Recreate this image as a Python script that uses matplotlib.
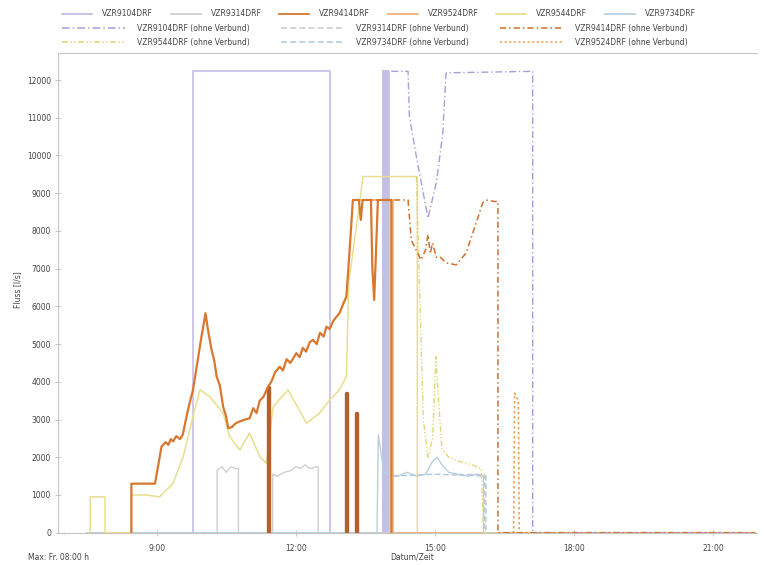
import matplotlib
matplotlib.use("Agg")
import matplotlib.pyplot as plt
from matplotlib.lines import Line2D
from matplotlib.ticker import FixedLocator, MultipleLocator, FuncFormatter
import numpy as np

# ---------------------------------------------------------------- data (time in hours, flow in l/s)
labels_main = ["VZR9104DRF", "VZR9314DRF", "VZR9414DRF",
               "VZR9524DRF", "VZR9544DRF", "VZR9734DRF"]
labels_ov = ["VZR9104DRF (ohne Verbund)", "VZR9314DRF (ohne Verbund)",
             "VZR9414DRF (ohne Verbund)", "VZR9544DRF (ohne Verbund)",
             "VZR9734DRF (ohne Verbund)", "VZR9524DRF (ohne Verbund)"]

s1_t = [7.50, 9.78, 9.78, 12.74, 12.74, 13.87,
        13.87, 13.89, 13.89, 13.91,
        13.91, 13.93, 13.93, 13.95,
        13.95, 13.97, 13.97, 13.99,
        13.99, 14.01, 14.01, 14.03,
        14.03, 21.90]
s1_v = [0, 0, 12230, 12230, 0, 0,
        12230, 12230, 0, 0,
        12230, 12230, 0, 0,
        12230, 12230, 0, 0,
        12230, 12230, 0, 0,
        0, 0]

s2_t = [7.50, 10.30, 10.30, 10.40, 10.50, 10.60, 10.70, 10.76, 10.76, 11.50, 11.50, 11.60,
        11.75, 11.90, 12.00, 12.10, 12.20, 12.30, 12.45, 12.48, 12.48, 21.90]
s2_v = [0, 0, 1650, 1750, 1600, 1750, 1700, 1700, 0, 0, 1550, 1500,
        1600, 1650, 1750, 1700, 1800, 1700, 1750, 1750, 0, 0]

s3_t = [8.45, 8.45, 8.60, 8.96, 9.10, 9.19, 9.25, 9.30, 9.35, 9.42, 9.50, 9.56,
        9.64, 9.70, 9.78, 9.86, 9.95, 10.05, 10.10, 10.18, 10.24, 10.29, 10.36, 10.43,
        10.49, 10.54, 10.62, 10.70, 10.79, 10.90, 11.00, 11.08, 11.15, 11.22, 11.30, 11.40,
        11.47, 11.55, 11.65, 11.72, 11.80, 11.88, 12.01, 12.08, 12.15, 12.22, 12.30, 12.37,
        12.45, 12.52, 12.60, 12.66, 12.73, 12.80, 12.86, 12.94, 13.00, 13.09, 13.16, 13.23,
        13.36, 13.40, 13.44, 13.50, 13.62, 13.65, 13.69, 13.73, 13.77, 13.80, 14.06, 14.06]
s3_v = [0, 1300, 1300, 1300, 2280, 2400, 2330, 2480, 2420, 2560, 2480, 2600,
        3080, 3400, 3790, 4400, 5100, 5820, 5400, 4850, 4550, 4140, 3900, 3340,
        3100, 2770, 2800, 2900, 2950, 3000, 3030, 3300, 3170, 3500, 3600, 3870,
        4000, 4250, 4400, 4300, 4600, 4500, 4760, 4650, 4900, 4800, 5050, 5110,
        5000, 5300, 5200, 5460, 5400, 5600, 5700, 5820, 6000, 6260, 7500, 8820,
        8820, 8290, 8820, 8820, 8820, 7000, 6170, 7500, 8820, 8820, 8820, 0]

# short pulses of VZR9414DRF
s3p_t = [11.40, 11.40, 11.42, 11.42, np.nan, 13.09, 13.09, 13.11, 13.11, np.nan,
         13.30, 13.30, 13.32, 13.32]
s3p_v = [0, 3870, 3870, 0, np.nan, 0, 3700, 3700, 0, np.nan,
         0, 3170, 3170, 0]

s4_t = [13.23, 14.10, 14.10, 21.90]
s4_v = [8820, 8820, 0, 0]

s5_t = [7.56, 7.56, 7.88, 7.88, 8.45, 8.45, 8.78, 9.06, 9.35, 9.57, 9.78, 9.93,
        10.14, 10.43, 10.57, 10.79, 11.00, 11.22, 11.36, 11.51, 11.83, 12.23, 12.51, 12.73,
        12.94, 13.09, 13.14, 13.45, 14.60, 14.62, 14.62]
s5_v = [0, 950, 950, 0, 0, 1000, 1000, 950, 1310, 2020, 3080, 3790,
        3610, 3170, 2550, 2190, 2640, 2020, 1840, 3340, 3790, 2900, 3170, 3520,
        3790, 4140, 6600, 9440, 9440, 9440, 0]

s6_t = [7.50, 13.75, 13.78, 13.85, 13.90, 14.00, 14.20, 14.40, 14.60, 14.80, 14.95, 15.05,
        15.15, 15.30, 15.50, 15.70, 15.90, 16.05, 16.05, 21.90]
s6_v = [0, 0, 2600, 2000, 1600, 1550, 1500, 1600, 1500, 1550, 1900, 2000,
        1800, 1600, 1550, 1500, 1550, 1500, 0, 0]

d1_t = [14.06, 14.42, 14.45, 14.60, 14.85, 15.03, 15.17, 15.24, 17.11, 17.11, 21.90]
d1_v = [12230, 12230, 11030, 9970, 8340, 9270, 10590, 12190, 12230, 0, 0]

d2_t = [15.50, 16.07, 16.07, 21.90]
d2_v = [1550, 1550, 0, 0]

d3_t = [13.23, 14.42, 14.49, 14.70, 14.80, 14.85, 14.90, 14.95, 15.03, 15.10, 15.25, 15.46,
        15.67, 15.89, 16.03, 16.10, 16.28, 16.36, 16.36, 21.90]
d3_v = [8820, 8820, 7760, 7230, 7500, 7900, 7400, 7680, 7300, 7320, 7150, 7100,
        7410, 8210, 8740, 8820, 8780, 8780, 0, 0]

d4_t = [14.60, 14.68, 14.75, 14.85, 14.95, 15.02, 15.08, 15.15, 15.30, 15.50, 15.80, 16.00,
        16.05, 21.90]
d4_v = [9440, 6000, 3000, 2000, 2500, 4670, 3500, 2200, 2000, 1900, 1800, 1700,
        0, 0]

d5_t = [14.10, 15.00, 16.10, 16.10, 21.90]
d5_v = [1500, 1550, 1500, 0, 0]

d6_t = [16.36, 16.70, 16.72, 16.80, 16.82, 21.90]
d6_v = [0, 0, 3700, 3500, 0, 0]

x_ticks = [9, 12, 15, 18, 21]
y_ticks = list(range(0, 13000, 1000))

# ---------------------------------------------------------------- styling
c1, c2, c3, c4, c5, c6 = "#c5bfe6", "#cfcfd4", "#d9772e", "#f0b27a", "#e8df8e", "#b8d0e2"
e1, e2, e3, e4, e5, e6 = "#a89fd8", "#c8c8d0", "#cf6f2a", "#e2d67c", "#b0c8dc", "#eaa45e"
txt = "#444444"
spine = "#c9c4c0"

W, H = 764, 565
fig = plt.figure(figsize=(W / 100, H / 100), dpi=100)
plt.rcParams["font.family"] = ["DejaVu Sans"]


def fx(px):
    return px / W


def fy(py):
    return 1 - py / H


ax = fig.add_axes([fx(58), fy(532.7), fx(757) - fx(58), fy(53) - fy(532.7)])

ax.plot(s1_t, s1_v, color=c1, lw=1.2)
ax.plot(s2_t, s2_v, color=c2, lw=1.0)
ax.plot(s6_t, s6_v, color=c6, lw=1.0)
ax.plot(s5_t, s5_v, color=c5, lw=1.1)
ax.plot(s4_t, s4_v, color=c4, lw=1.2)
ax.plot(d2_t, d2_v, color=e2, lw=1.0, ls=(0, (4, 2)))
ax.plot(d5_t, d5_v, color=e5, lw=1.0, ls=(0, (4, 2)))
ax.plot(d4_t, d4_v, color=e4, lw=1.0, ls=(0, (4, 1.5, 1, 1.5, 1, 1.5)))
ax.plot(d6_t, d6_v, color=e6, lw=1.2, ls=(0, (1.5, 1.5)))
ax.plot(d1_t, d1_v, color=e1, lw=1.0, ls=(0, (5, 2, 1, 2)))
ax.plot(d3_t, d3_v, color=e3, lw=1.1, ls=(0, (4, 2, 1, 2)))
ax.plot(s3p_t, s3p_v, color="#b3612c", lw=2.4)
ax.plot(s3_t, s3_v, color=c3, lw=1.6)

ax.set_xlim(6.867, 21.95)
ax.set_ylim(0, 12716)

ax.xaxis.set_major_locator(FixedLocator(x_ticks))
ax.xaxis.set_minor_locator(MultipleLocator(1))
ax.xaxis.set_major_formatter(FuncFormatter(lambda v, p: f"{int(round(v))}:00"))
ax.yaxis.set_major_locator(FixedLocator(y_ticks))
ax.yaxis.set_major_formatter(FuncFormatter(lambda v, p: f"{int(v)}"))

ax.tick_params(axis="both", which="major", labelsize=5.5, colors=spine, labelcolor=txt,
               length=4, width=0.7, direction="inout")
ax.tick_params(axis="x", which="minor", length=2, width=0.5, colors=spine, direction="inout")
ax.tick_params(axis="x", pad=6)
ax.tick_params(axis="y", pad=3)

for name in ("left", "bottom", "top"):
    ax.spines[name].set_color(spine)
    ax.spines[name].set_linewidth(0.8)
ax.spines["right"].set_visible(False)

fig.text(fx(18), fy(290), "Fluss [l/s]", rotation=90, fontsize=5.5, color=txt,
         ha="center", va="center")
fig.text(fx(28), fy(557), "Max: Fr. 08:00 h", fontsize=5.5, color=txt, ha="left", va="center")
fig.text(fx(390), fy(557), "Datum/Zeit", fontsize=5.5, color=txt, ha="left", va="center")

# ---------------------------------------------------------------- legend block above the plot
row1 = [(labels_main[i], col, "-") for i, col in enumerate([c1, c2, c3, c4, c5, c6])]
row2 = [(labels_ov[0], e1, (0, (5, 2, 1, 2))), (labels_ov[1], e2, (0, (4, 2))),
        (labels_ov[2], e3, (0, (4, 2, 1, 2)))]
row3 = [(labels_ov[3], e4, (0, (4, 1.5, 1, 1.5, 1, 1.5))), (labels_ov[4], e5, (0, (4, 2))),
        (labels_ov[5], e6, (0, (1.5, 1.5)))]

for i, (lab, col, ls) in enumerate(row1):
    x0 = 62 + i * 108.5
    fig.add_artist(Line2D([fx(x0), fx(x0 + 30)], [fy(14), fy(14)], color=col, lw=1.3, ls=ls,
                          transform=fig.transFigure))
    fig.text(fx(x0 + 40), fy(14), lab, fontsize=5.5, color=txt, ha="left", va="center")

for r, row in enumerate([row2, row3]):
    yy = 28 + r * 14
    for i, (lab, col, ls) in enumerate(row):
        x0 = 62 + i * 219
        fig.add_artist(Line2D([fx(x0), fx(x0 + 63)], [fy(yy), fy(yy)], color=col, lw=1.1, ls=ls,
                              transform=fig.transFigure))
        fig.text(fx(x0 + 75), fy(yy), lab, fontsize=5.5, color=txt, ha="left", va="center")

fig.savefig("out.png", dpi=100, facecolor="white")
